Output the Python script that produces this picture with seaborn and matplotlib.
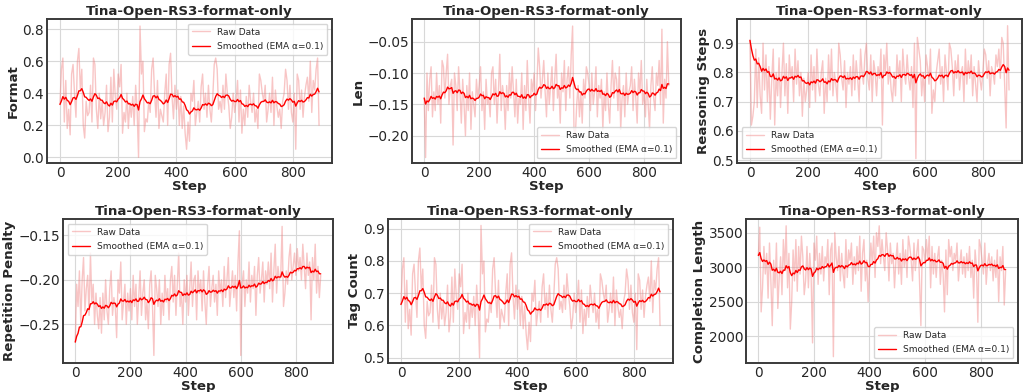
import numpy as np
import pandas as pd
import matplotlib
matplotlib.use("Agg")
import matplotlib.pyplot as plt
import seaborn as sns

# ---------------- data (raw values read every 5 steps) ----------------
steps = list(range(0, 891, 5))

format_raw = [
    0.33, 0.55, 0.62, 0.22, 0.48, 0.18, 0.30, 0.14, 0.52, 0.58,
    0.40, 0.25, 0.60, 0.68, 0.42, 0.55, 0.20, 0.12, 0.35, 0.26,
    0.28, 0.45, 0.22, 0.62, 0.58, 0.30, 0.18, 0.40, 0.24, 0.35,
    0.20, 0.28, 0.45, 0.16, 0.25, 0.50, 0.22, 0.55, 0.38, 0.30,
    0.52, 0.44, 0.58, 0.15, 0.28, 0.22, 0.40, 0.18, 0.34, 0.25,
    0.38, 0.20, 0.45, 0.30, 0.00, 0.82, 0.52, 0.60, 0.16, 0.24,
    0.22, 0.35, 0.28, 0.55, 0.62, 0.40, 0.25, 0.48, 0.18, 0.30,
    0.26, 0.22, 0.40, 0.52, 0.20, 0.58, 0.65, 0.38, 0.24, 0.45,
    0.30, 0.42, 0.20, 0.38, 0.18, 0.32, 0.15, 0.05, 0.22, 0.10,
    0.40, 0.35, 0.48, 0.20, 0.28, 0.35, 0.22, 0.44, 0.52, 0.30,
    0.40, 0.25, 0.45, 0.30, 0.22, 0.38, 0.58, 0.62, 0.55, 0.30,
    0.35, 0.28, 0.45, 0.30, 0.52, 0.40, 0.32, 0.18, 0.25, 0.40,
    0.28, 0.35, 0.48, 0.22, 0.42, 0.15, 0.30, 0.20, 0.38, 0.25,
    0.45, 0.35, 0.28, 0.40, 0.22, 0.30, 0.18, 0.52, 0.48, 0.40,
    0.35, 0.45, 0.22, 0.30, 0.40, 0.28, 0.50, 0.20, 0.42, 0.32,
    0.25, 0.30, 0.18, 0.35, 0.40, 0.55, 0.48, 0.30, 0.45, 0.28,
    0.22, 0.40, 0.05, 0.52, 0.48, 0.30, 0.42, 0.25, 0.38, 0.45,
    0.50, 0.35, 0.60, 0.28, 0.48, 0.42, 0.55, 0.62, 0.20]

len_raw = [
    -0.14, -0.235, -0.10, -0.16, -0.11, -0.09, -0.17, -0.13, -0.16, -0.10,
    -0.15, -0.12, -0.18, -0.08, -0.09, -0.14, -0.10, -0.07, -0.15, -0.12,
    -0.11, -0.215, -0.10, -0.12, -0.16, -0.09, -0.13, -0.18, -0.11, -0.15,
    -0.20, -0.12, -0.16, -0.10, -0.19, -0.13, -0.15, -0.17, -0.11, -0.14,
    -0.12, -0.09, -0.16, -0.13, -0.19, -0.11, -0.15, -0.14, -0.17, -0.10,
    -0.09, -0.15, -0.11, -0.18, -0.13, -0.07, -0.16, -0.12, -0.14, -0.19,
    -0.12, -0.16, -0.10, -0.14, -0.09, -0.13, -0.17, -0.11, -0.18, -0.14,
    -0.15, -0.10, -0.19, -0.12, -0.16, -0.08, -0.14, -0.18, -0.11, -0.13,
    -0.10, -0.16, -0.12, -0.06, -0.09, -0.14, -0.11, -0.08, -0.13, -0.17,
    -0.10, -0.15, -0.12, -0.09, -0.16, -0.11, -0.07, -0.14, -0.12, -0.18,
    -0.10, -0.13, -0.08, -0.16, -0.11, -0.09, -0.14, -0.07, -0.025, -0.19,
    -0.20, -0.15, -0.12, -0.17, -0.13, -0.18, -0.11, -0.14, -0.09, -0.10,
    -0.12, -0.16, -0.10, -0.15, -0.13, -0.09, -0.17, -0.12, -0.14, -0.11,
    -0.19, -0.13, -0.16, -0.10, -0.15, -0.18, -0.12, -0.08, -0.14, -0.10,
    -0.11, -0.16, -0.09, -0.19, -0.14, -0.12, -0.17, -0.10, -0.15, -0.13,
    -0.12, -0.09, -0.16, -0.11, -0.14, -0.18, -0.10, -0.13, -0.08, -0.15,
    -0.13, -0.17, -0.11, -0.15, -0.19, -0.12, -0.09, -0.14, -0.16, -0.10,
    -0.12, -0.08, -0.15, -0.03, -0.18, -0.11, -0.14, -0.05, -0.12]

reasoning_raw = [
    0.91, 0.62, 0.65, 0.70, 0.88, 0.68, 0.85, 0.72, 0.66, 0.90,
    0.74, 0.86, 0.70, 0.82, 0.64, 0.78, 0.88, 0.62, 0.80, 0.72,
    0.85, 0.68, 0.80, 0.90, 0.72, 0.83, 0.66, 0.86, 0.78, 0.82,
    0.70, 0.88, 0.76, 0.84, 0.72, 0.80, 0.65, 0.78, 0.70, 0.74,
    0.80, 0.68, 0.86, 0.74, 0.82, 0.70, 0.88, 0.76, 0.72, 0.80,
    0.84, 0.66, 0.78, 0.70, 0.86, 0.74, 0.88, 0.72, 0.80, 0.76,
    0.70, 0.90, 0.86, 0.78, 0.74, 0.84, 0.68, 0.80, 0.76, 0.82,
    0.72, 0.86, 0.74, 0.84, 0.78, 0.70, 0.88, 0.80, 0.76, 0.86,
    0.90, 0.78, 0.74, 0.86, 0.70, 0.84, 0.80, 0.72, 0.82, 0.78,
    0.88, 0.62, 0.86, 0.80, 0.90, 0.76, 0.82, 0.74, 0.70, 0.80,
    0.72, 0.86, 0.78, 0.84, 0.70, 0.88, 0.80, 0.76, 0.86, 0.78,
    0.74, 0.82, 0.68, 0.90, 0.505, 0.92, 0.88, 0.84, 0.72, 0.80,
    0.70, 0.86, 0.82, 0.76, 0.88, 0.66, 0.74, 0.70, 0.80, 0.84,
    0.88, 0.76, 0.82, 0.70, 0.86, 0.80, 0.74, 0.90, 0.88, 0.82,
    0.72, 0.84, 0.78, 0.86, 0.74, 0.80, 0.82, 0.70, 0.88, 0.76,
    0.84, 0.78, 0.86, 0.72, 0.82, 0.76, 0.70, 0.84, 0.78, 0.74,
    0.80, 0.88, 0.86, 0.78, 0.84, 0.72, 0.82, 0.80, 0.76, 0.86,
    0.82, 0.88, 0.78, 0.92, 0.90, 0.76, 0.61, 0.96, 0.74]

repetition_raw = [
    -0.270, -0.205, -0.230, -0.190, -0.250, -0.200, -0.175, -0.235, -0.210, -0.195,
    -0.240, -0.170, -0.225, -0.205, -0.250, -0.215, -0.240, -0.255, -0.220, -0.260,
    -0.215, -0.245, -0.200, -0.235, -0.250, -0.210, -0.190, -0.240, -0.220, -0.230,
    -0.265, -0.200, -0.215, -0.180, -0.245, -0.225, -0.205, -0.250, -0.215, -0.235,
    -0.210, -0.245, -0.195, -0.230, -0.205, -0.250, -0.220, -0.190, -0.240, -0.215,
    -0.200, -0.245, -0.225, -0.255, -0.205, -0.190, -0.230, -0.285, -0.195, -0.210,
    -0.230, -0.200, -0.250, -0.215, -0.240, -0.195, -0.225, -0.210, -0.245, -0.200,
    -0.185, -0.225, -0.195, -0.240, -0.205, -0.170, -0.230, -0.215, -0.250, -0.200,
    -0.225, -0.195, -0.240, -0.210, -0.180, -0.230, -0.200, -0.195, -0.245, -0.190,
    -0.215, -0.200, -0.235, -0.190, -0.225, -0.250, -0.205, -0.185, -0.230, -0.210,
    -0.195, -0.225, -0.205, -0.240, -0.190, -0.215, -0.200, -0.230, -0.185, -0.220,
    -0.200, -0.175, -0.230, -0.210, -0.190, -0.220, -0.195, -0.235, -0.180, -0.145,
    -0.285, -0.205, -0.190, -0.230, -0.200, -0.215, -0.180, -0.225, -0.195, -0.210,
    -0.185, -0.240, -0.195, -0.175, -0.215, -0.200, -0.180, -0.225, -0.190, -0.205,
    -0.180, -0.210, -0.170, -0.225, -0.190, -0.160, -0.215, -0.185, -0.200, -0.195,
    -0.140, -0.230, -0.215, -0.190, -0.205, -0.175, -0.160, -0.200, -0.185, -0.170,
    -0.195, -0.165, -0.190, -0.175, -0.200, -0.160, -0.185, -0.210, -0.170, -0.195,
    -0.180, -0.245, -0.175, -0.200, -0.160, -0.215, -0.185, -0.220, -0.195]

tag_raw = [
    0.665, 0.775, 0.81, 0.61, 0.74, 0.59, 0.65, 0.57, 0.76, 0.79,
    0.70, 0.625, 0.80, 0.84, 0.71, 0.775, 0.60, 0.56, 0.675, 0.63,
    0.64, 0.725, 0.61, 0.81, 0.79, 0.65, 0.59, 0.70, 0.62, 0.675,
    0.60, 0.64, 0.725, 0.58, 0.625, 0.75, 0.61, 0.775, 0.69, 0.65,
    0.76, 0.72, 0.79, 0.575, 0.64, 0.61, 0.70, 0.59, 0.67, 0.625,
    0.69, 0.60, 0.725, 0.65, 0.50, 0.91, 0.76, 0.80, 0.58, 0.62,
    0.61, 0.675, 0.64, 0.775, 0.81, 0.70, 0.625, 0.74, 0.59, 0.65,
    0.63, 0.61, 0.70, 0.76, 0.60, 0.79, 0.825, 0.69, 0.62, 0.725,
    0.65, 0.71, 0.60, 0.69, 0.59, 0.66, 0.575, 0.525, 0.61, 0.55,
    0.70, 0.675, 0.74, 0.60, 0.64, 0.675, 0.61, 0.72, 0.76, 0.65,
    0.70, 0.625, 0.725, 0.65, 0.61, 0.69, 0.79, 0.81, 0.775, 0.65,
    0.675, 0.64, 0.725, 0.65, 0.76, 0.70, 0.66, 0.59, 0.625, 0.70,
    0.64, 0.675, 0.74, 0.61, 0.71, 0.575, 0.65, 0.60, 0.69, 0.625,
    0.725, 0.675, 0.64, 0.70, 0.61, 0.65, 0.59, 0.76, 0.74, 0.70,
    0.675, 0.725, 0.61, 0.65, 0.70, 0.64, 0.75, 0.60, 0.71, 0.66,
    0.625, 0.65, 0.59, 0.675, 0.70, 0.775, 0.74, 0.65, 0.725, 0.64,
    0.61, 0.70, 0.525, 0.76, 0.74, 0.65, 0.71, 0.625, 0.69, 0.725,
    0.75, 0.675, 0.80, 0.64, 0.74, 0.71, 0.775, 0.81, 0.60]

completion_raw = [
    3170, 3580, 2350, 2700, 3300, 2900, 3200, 2550, 3350, 2800,
    2150, 3100, 2700, 3350, 2400, 2850, 3150, 2600, 3400, 2950,
    3600, 2700, 3200, 2100, 2500, 3250, 2800, 3400, 2650, 3300,
    2900, 3450, 3150, 2600, 2800, 3300, 2700, 3200, 2850, 1900,
    3350, 3100, 3450, 2750, 3200, 2900, 3300, 2800, 3150, 3050,
    3400, 2600, 3250, 3350, 1700, 3500, 3150, 2950, 3300, 2800,
    3200, 2900, 2700, 3400, 2850, 3250, 3100, 3350, 2750, 3150,
    2900, 3300, 2950, 3450, 2650, 3200, 3400, 2800, 3100, 2500,
    2950, 3350, 3050, 3450, 2850, 3500, 3300, 3600, 3050, 3400,
    3150, 2950, 3500, 3250, 2800, 3350, 3050, 3200, 2700, 3100,
    3350, 2900, 3200, 2750, 3400, 3000, 3250, 2850, 3450, 3300,
    3100, 2800, 3350, 2950, 3200, 3400, 2800, 2150, 3300, 3250,
    3050, 3400, 3100, 3450, 2700, 3300, 2900, 3200, 2850, 3150,
    3300, 2750, 3100, 2900, 2350, 3250, 2600, 3400, 3150, 3300,
    2950, 3200, 3100, 3350, 2800, 3050, 3250, 2900, 3150, 2850,
    3200, 2950, 3300, 2850, 3100, 2550, 3250, 3000, 2200, 3400,
    3300, 3100, 2900, 3350, 2750, 3050, 3200, 2950, 3150, 2800,
    3100, 2850, 3250, 2500, 3150, 2950, 3300, 2450, 2950]

title = "Tina-Open-RS3-format-only"
ylabels = ["Format", "Len", "Reasoning Steps",
           "Repetition Penalty", "Tag Count", "Completion Length"]
series = [format_raw, len_raw, reasoning_raw,
          repetition_raw, tag_raw, completion_raw]
yticks = [[0.0, 0.2, 0.4, 0.6, 0.8],
          [-0.20, -0.15, -0.10, -0.05],
          [0.5, 0.6, 0.7, 0.8, 0.9],
          [-0.25, -0.20, -0.15],
          [0.5, 0.6, 0.7, 0.8, 0.9],
          [2000, 2500, 3000, 3500]]
xticks = [0, 200, 400, 600, 800]

# ---------------- style ----------------
sns.set_style("whitegrid")
plt.rcParams.update({
    "font.family": ["DejaVu Sans"],
    "axes.edgecolor": "#3a3a3a",
    "axes.linewidth": 1.4,
    "grid.color": "#d8d8d8",
    "grid.linewidth": 0.8,
    "xtick.labelsize": 9.8,
    "ytick.labelsize": 9.8,
    "xtick.major.pad": 2,
    "ytick.major.pad": 2,
})

W, H = 1025, 392
fig = plt.figure(figsize=(W / 100, H / 100), dpi=100)

# axes boxes in pixels: left, top, right, bottom
boxes = [(47, 19, 332, 163), (412, 19, 681, 163), (737, 19, 1022, 163),
         (63, 219, 333, 363), (388, 219, 673, 363), (746, 219, 1018, 363)]
legend_locs = ["upper right", "lower right", "lower left",
               "upper left", "upper right", "lower right"]
ylims = [(-0.036, 0.864), (-0.2437, -0.0137), (0.49, 0.983),
         (-0.2935, -0.1317), (0.4836, 0.930), (1608, 3699)]

for i, (raw, box) in enumerate(zip(series, boxes)):
    l, t, r, b = box
    ax = fig.add_axes([l / W, 1 - b / H, (r - l) / W, (b - t) / H])
    df = pd.DataFrame({"Step": steps, "raw": raw})
    df["smooth"] = df["raw"].ewm(alpha=0.1, adjust=False).mean()
    sns.lineplot(data=df, x="Step", y="raw", ax=ax, color="lightcoral",
                 alpha=0.45, linewidth=1.0, label="Raw Data")
    sns.lineplot(data=df, x="Step", y="smooth", ax=ax, color="red",
                 linewidth=1.0, label="Smoothed (EMA \u03b1=0.1)")
    ax.set_title(title, fontsize=9.6, fontweight="bold", pad=3)
    ax.set_xlabel("Step", fontsize=9.6, fontweight="bold", labelpad=0)
    ax.set_ylabel(ylabels[i], fontsize=9.6, fontweight="bold", labelpad=2)
    ax.set_xticks(xticks)
    ax.set_yticks(yticks[i])
    ax.set_xlim(-44.5, 934.5)
    ax.set_ylim(*ylims[i])
    ax.tick_params(length=0)
    ax.legend(loc=legend_locs[i], fontsize=6.5, framealpha=0.8,
              borderpad=0.45, handlelength=2.0, labelspacing=0.6)

fig.savefig("out.png", dpi=100)
